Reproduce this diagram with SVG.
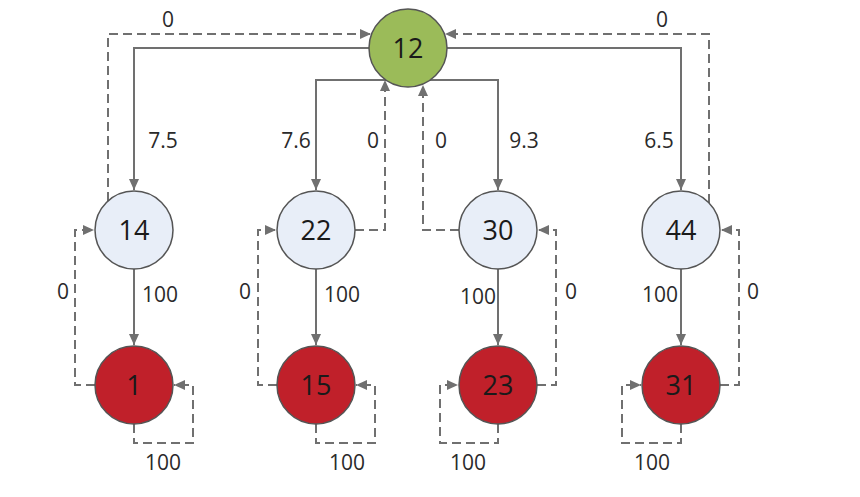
<svg xmlns="http://www.w3.org/2000/svg" width="860" height="497" viewBox="0 0 860 497">
<style>
.e{fill:none;stroke:#707070;stroke-width:2}
.d{stroke-dasharray:9,5}
.n{stroke:#555;stroke-width:1.5}
.blue{fill:#e8eef8}
.green{fill:#9bbb59}
.red{fill:#c0202a}
.t{font-family:"Open Sans","Noto Sans",sans-serif;font-size:27px;fill:#1a1a1a;text-anchor:middle}
.l{font-family:"Open Sans","Noto Sans",sans-serif;font-size:21px;fill:#2a2a2a;text-anchor:middle}
</style>
<defs>
<marker id="a" markerWidth="12" markerHeight="10" refX="11" refY="5" orient="auto" markerUnits="userSpaceOnUse">
<path d="M0,0 L11,5 L0,10 Z" fill="#707070"/>
</marker>
</defs>
<rect width="860" height="497" fill="#fff"/>
<g id="connectors">
<path class="e" d="M369,48 H134 V190" marker-end="url(#a)"/>
<path class="e" d="M386,80 H316 V190" marker-end="url(#a)"/>
<path class="e" d="M430,80 H498 V190" marker-end="url(#a)"/>
<path class="e" d="M447,48 H681 V190" marker-end="url(#a)"/>
<path class="e d" d="M108,201 V34 H371" marker-end="url(#a)"/>
<path class="e d" d="M709,203 V34 H445" marker-end="url(#a)"/>
<path class="e d" d="M355,230 H385 V80" marker-end="url(#a)"/>
<path class="e d" d="M459,230 H423 V85" marker-end="url(#a)"/>
<path class="e" d="M134,269 V345" marker-end="url(#a)"/>
<path class="e" d="M316,269 V345" marker-end="url(#a)"/>
<path class="e" d="M498,269 V345" marker-end="url(#a)"/>
<path class="e" d="M681,269 V345" marker-end="url(#a)"/>
<path class="e d" d="M95,385 H75 V230 H94" marker-end="url(#a)"/>
<path class="e d" d="M277,385 H258 V230 H276" marker-end="url(#a)"/>
<path class="e d" d="M537,385 H556 V230 H538" marker-end="url(#a)"/>
<path class="e d" d="M720,385 H739 V230 H721" marker-end="url(#a)"/>
<path class="e d" d="M134,424 V443 H193 V385 H174" marker-end="url(#a)"/>
<path class="e d" d="M316,424 V443 H375 V385 H356" marker-end="url(#a)"/>
<path class="e d" d="M498,424 V443 H440 V385 H458" marker-end="url(#a)"/>
<path class="e d" d="M681,424 V443 H622 V385 H641" marker-end="url(#a)"/>
<text class="l" x="168" y="27">0</text>
<text class="l" x="662" y="27">0</text>
<text class="l" x="163" y="148">7.5</text>
<text class="l" x="296" y="148">7.6</text>
<text class="l" x="373" y="148">0</text>
<text class="l" x="441" y="148">0</text>
<text class="l" x="524" y="148">9.3</text>
<text class="l" x="659" y="148">6.5</text>
<text class="l" x="160" y="302">100</text>
<text class="l" x="342" y="302">100</text>
<text class="l" x="478" y="304">100</text>
<text class="l" x="660" y="302">100</text>
<text class="l" x="63" y="299">0</text>
<text class="l" x="245" y="299">0</text>
<text class="l" x="571" y="299">0</text>
<text class="l" x="753" y="299">0</text>
<text class="l" x="163" y="470">100</text>
<text class="l" x="347" y="470">100</text>
<text class="l" x="468" y="470">100</text>
<text class="l" x="652" y="470">100</text>
</g>
<g id="n12"><circle class="n green" cx="408" cy="48" r="39"/><text class="t" x="408" y="58">12</text></g>
<g id="n14"><circle class="n blue" cx="134" cy="230" r="39"/><text class="t" x="134" y="240">14</text></g>
<g id="n22"><circle class="n blue" cx="316" cy="230" r="39"/><text class="t" x="316" y="240">22</text></g>
<g id="n30"><circle class="n blue" cx="498" cy="230" r="39"/><text class="t" x="498" y="240">30</text></g>
<g id="n44"><circle class="n blue" cx="681" cy="230" r="39"/><text class="t" x="681" y="240">44</text></g>
<g id="n1"><circle class="n red" cx="134" cy="385" r="39"/><text class="t" x="134" y="395">1</text></g>
<g id="n15"><circle class="n red" cx="316" cy="385" r="39"/><text class="t" x="316" y="395">15</text></g>
<g id="n23"><circle class="n red" cx="498" cy="385" r="39"/><text class="t" x="498" y="395">23</text></g>
<g id="n31"><circle class="n red" cx="681" cy="385" r="39"/><text class="t" x="681" y="395">31</text></g>
</svg>
